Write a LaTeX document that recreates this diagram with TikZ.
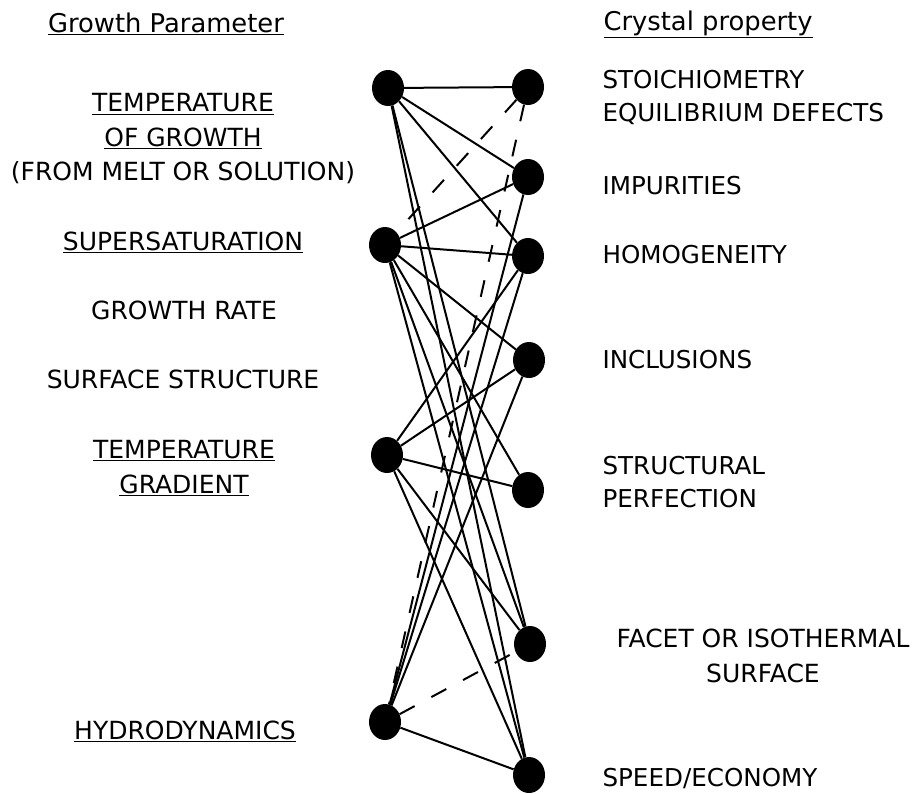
\documentclass[tikz,border=0pt]{standalone}
\usepackage{fontspec}
\setmainfont{DejaVu Sans}
\usetikzlibrary{positioning,shapes.geometric}

\begin{document}
\begin{tikzpicture}[
  x=1pt, y=-1pt,
  dot/.style={ellipse, fill=black, minimum width=32pt, minimum height=36pt,
              inner sep=0pt},
  head/.style={font=\fontsize{25.8}{30}\selectfont},
  param/.style={align=center, font=\fontsize{25}{34.5}\selectfont},
  prop/.style={align=left, anchor=west, font=\fontsize{24.6}{33}\selectfont},
  link/.style={line width=2pt},
  weak/.style={link, dash pattern=on 17pt off 19pt}
]
\useasboundingbox (0,0) rectangle (915,793);

% Column heads
\node[head] (paramhead) at (166,24) {\underline{Growth Parameter}};
\node[head, anchor=west] (prophead) at (600,24) {\underline{Crystal property}};

% Growth parameters
\node[param] (tgrowthlbl) at (183,139)
  {\underline{TEMPERATURE}\\ \underline{OF GROWTH}\\ (FROM MELT OR SOLUTION)};
\node[param] (ssatlbl) at (183,242) {\underline{SUPERSATURATION}};
\node[param] (ratelbl) at (184,310) {GROWTH RATE};
\node[param] (surflbl) at (183,379) {SURFACE STRUCTURE};
\node[param] (tgradlbl) at (184,468) {\underline{TEMPERATURE}\\ \underline{GRADIENT}};
\node[param] (hydrolbl) at (185,731) {\underline{HYDRODYNAMICS}};

% Crystal properties
\node[prop] (stoichlbl) at (599,97) {STOICHIOMETRY\\ EQUILIBRIUM DEFECTS};
\node[prop] (impurlbl) at (599,186) {IMPURITIES};
\node[prop] (homoglbl) at (599,255) {HOMOGENEITY};
\node[prop] (incllbl) at (599,360) {INCLUSIONS};
\node[prop] (structlbl) at (599,482) {STRUCTURAL\\ PERFECTION};
\node[param] (facetlbl) at (763,656) {FACET OR ISOTHERMAL\\ SURFACE};
\node[prop] (speedlbl) at (599,778) {SPEED/ECONOMY};

% Left dots
\node[dot] (tgrowth) at (388,88) {};
\node[dot] (ssat) at (385,245) {};
\node[dot] (tgrad) at (387,455) {};
\node[dot] (hydro) at (385,722) {};

% Right dots
\node[dot] (stoich) at (528,87) {};
\node[dot] (impur) at (528,177) {};
\node[dot] (homog) at (528,256) {};
\node[dot] (incl) at (529,360) {};
\node[dot] (struct) at (528,490) {};
\node[dot] (facet) at (530,644) {};
\node[dot] (speed) at (529,775) {};

% Temperature of growth
\draw[link] (tgrowth) -- (stoich);
\draw[link] (tgrowth) -- (impur);
\draw[link] (tgrowth) -- (homog);
\draw[link] (tgrowth) -- (facet);
\draw[link] (tgrowth) -- (speed);

% Supersaturation
\draw[link] (ssat) -- (impur);
\draw[link] (ssat) -- (homog);
\draw[link] (ssat) -- (incl);
\draw[link] (ssat) -- (struct);
\draw[link] (ssat) -- (facet);
\draw[link] (ssat) -- (speed);

% Temperature gradient
\draw[link] (tgrad) -- (homog);
\draw[link] (tgrad) -- (incl);
\draw[link] (tgrad) -- (struct);
\draw[link] (tgrad) -- (facet);
\draw[link] (tgrad) -- (speed);

% Hydrodynamics
\draw[link] (hydro) -- (impur);
\draw[link] (hydro) -- (homog);
\draw[link] (hydro) -- (incl);
\draw[link] (hydro) -- (speed);

% Weak relations
\draw[weak] (stoich) -- (ssat);
\draw[weak] (stoich) -- (hydro);
\draw[weak] (hydro) -- (facet);

\end{tikzpicture}
\end{document}
